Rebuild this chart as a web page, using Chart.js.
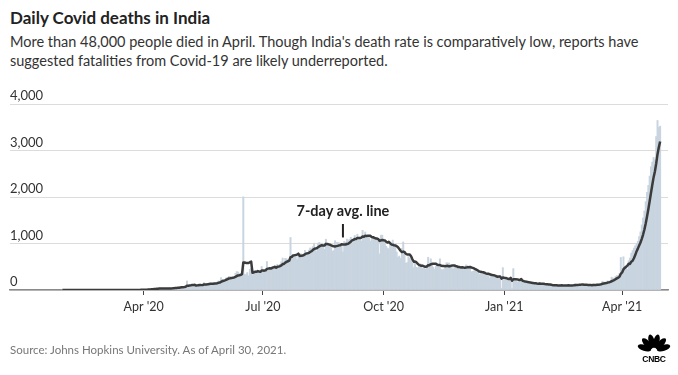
<!DOCTYPE html>
<html>
<head>
<meta charset="utf-8">
<script src="https://cdn.jsdelivr.net/npm/chart.js@4.4.0/dist/chart.umd.min.js"></script>
<style>
  html, body { margin: 0; padding: 0; background: #fff; }
  body { width: 678px; height: 375px; position: relative; overflow: hidden; font-family: Lato, "Open Sans", sans-serif; color: #222; }
  #title { position: absolute; left: 10px; top: 7px; font-size: 17px; font-weight: 700; color: #222; }
  #sub { position: absolute; left: 10px; top: 32px; width: 665px; font-size: 14.5px; line-height: 19px; color: #333; }
  #source { position: absolute; left: 10px; top: 343px; font-size: 11.5px; color: #777; }
  #chart { position: absolute; left: 0; top: 0; }
  #logo { position: absolute; left: 637px; top: 334px; }
</style>
</head>
<body>
<div id="title">Daily Covid deaths in India</div>
<div id="sub">More than 48,000 people died in April. Though India's death rate is comparatively low, reports have suggested fatalities from Covid-19 are likely underreported.</div>
<canvas id="chart" width="678" height="375"></canvas>
<div id="source">Source: Johns Hopkins University. As of April 30, 2021.</div>
<svg id="logo" width="34" height="30" viewBox="0 0 34 30">
  <g fill="#000">
    <ellipse cx="17" cy="7" rx="3" ry="7" transform="rotate(-72 17 17)"/>
    <ellipse cx="17" cy="7" rx="3" ry="7" transform="rotate(-43 17 17)"/>
    <ellipse cx="17" cy="7" rx="3" ry="7" transform="rotate(-14 17 17)"/>
    <ellipse cx="17" cy="7" rx="3" ry="7" transform="rotate(14 17 17)"/>
    <ellipse cx="17" cy="7" rx="3" ry="7" transform="rotate(43 17 17)"/>
    <ellipse cx="17" cy="7" rx="3" ry="7" transform="rotate(72 17 17)"/>
  </g>
  <text x="17" y="27.5" font-size="8.5" font-weight="900" text-anchor="middle" font-family="'Liberation Sans', Arial, sans-serif" fill="#000" letter-spacing="-0.3">CNBC</text>
</svg>
<script>
// daily deaths, Jan 30 2020 .. Apr 30 2021
var jan20 = [0, 0];
var feb20 = [0,0,0,0,0,0,0,0,0,0,0,0,0,0,0,0,0,0,0,0,0,0,0,0,0,0,0,0,0];
var mar20 = [0,0,0,0,0,0,0,0,0,0,0,1,1,0,0,0,1,0,1,0,1,3,2,1,1,3,3,5,3,7,7];
var apr20 = [6,12,9,15,27,13,29,22,33,20,35,38,44,31,35,26,23,36,40,36,43,38,41,47,53,47,56,61,66,71];
var may20 = [77,72,83,195,89,103,90,104,95,97,87,121,131,100,103,120,157,101,134,132,148,140,142,137,147,146,170,194,175,265,230];
var jun20 = [204,217,260,273,294,287,261,266,246,357,396,386,311,325,380,2003,341,334,375,306,445,465,312,418,413,384,410,380,418,507];
var jul20 = [434,379,442,613,425,467,482,507,475,519,487,551,500,553,606,687,543,681,671,587,637,1129,740,757,705,708,654,779,775,779,768];
var aug20 = [764,853,771,803,857,904,886,933,1007,871,834,1007,1023,995,1007,944,876,1092,977,983,944,912,836,848,1059,1023,1021,1017,948,968,819];
var sep20 = [1045,1026,1096,1065,1089,1133,1016,1115,1172,1089,1201,1114,1136,1054,1283,1132,1247,1174,1133,1130,1053,1085,1129,1141,1089,1124,1039,776,1179,1179];
var oct20 = [1095,1069,940,903,884,986,971,1073,964,918,816,706,730,680,895,1033,837,579,587,717,680,650,578,480,587,488,480,517,563,551,470];
var nov20 = [470,449,514,704,577,670,559,490,447,512,547,543,670,447,435,449,474,586,584,577,511,492,447,488,518,522,485,496,443,482];
var dec20 = [443,482,540,524,511,482,391,402,411,412,442,391,336,354,355,387,338,347,341,333,261,300,336,312,271,260,251,292,292,40,480];
var jan21 = [217,224,214,201,264,234,30,460,228,216,168,201,202,175,189,191,145,137,162,151,152,163,127,131,135,125,123,164,127,137,127];
var feb21 = [94,107,106,127,125,96,78,84,94,112,101,97,123,90,77,91,110,101,118,87,100,79,104,138,121,113,117,106];
var mar21 = [112,110,98,117,113,108,99,96,77,131,126,117,133,121,131,118,188,172,154,158,197,161,199,275,257,251,291,312,271,354,700];
var apr21 = [460,714,513,478,446,630,684,794,850,900,950,1000,1050,1150,1250,1400,1550,1700,1900,2100,2250,2450,2650,2750,2850,2800,3300,3645,3498,3523];

// x axis is days after Jan 1 2020
var firstDay = 29;
var tickDays = [91, 182, 274, 366, 456];
var tickLabels = ["Apr '20", "Jul '20", "Oct '20", "Jan '21", "Apr '21"];
var yTicks = [0, 1000, 2000, 3000, 4000];
var noteText = "7-day avg. line";
var noteDay = 243;

var deaths = [].concat(jan20, feb20, mar20, apr20, may20, jun20, jul20, aug20, sep20, oct20, nov20, dec20, jan21, feb21, mar21, apr21);
var days = deaths.map(function (_, i) { return firstDay + i; });
// trailing 7-day average, as in the original
var avg7 = deaths.map(function (_, i) {
    var win = deaths.slice(Math.max(0, i - 6), i + 1);
    return win.reduce(function (a, b) { return a + b; }, 0) / win.length;
});

Chart.defaults.font.family = "Lato, 'Open Sans', sans-serif";

var notePlugin = {
    id: "avgNote",
    afterDatasetsDraw: function (chart) {
        var ctx = chart.ctx, x = chart.scales.x, y = chart.scales.y;
        var px = x.getPixelForValue(noteDay);
        ctx.save();
        ctx.fillStyle = "#222";
        ctx.font = "bold 14.5px Lato, sans-serif";
        ctx.textAlign = "center";
        ctx.textBaseline = "middle";
        ctx.fillText(noteText, px, y.getPixelForValue(1700));
        ctx.strokeStyle = "#222";
        ctx.lineWidth = 2;
        ctx.beginPath();
        ctx.moveTo(px, y.getPixelForValue(1420));
        ctx.lineTo(px, y.getPixelForValue(1130));
        ctx.stroke();
        ctx.restore();
    }
};

new Chart(document.getElementById("chart"), {
    type: "bar",
    data: {
        datasets: [
            {
                type: "line",
                data: days.map(function (d, i) { return { x: d, y: avg7[i] }; }),
                borderColor: "#3b3b3b",
                borderWidth: 2.5,
                pointRadius: 0,
                borderJoinStyle: "round",
                order: 0
            },
            {
                type: "bar",
                data: days.map(function (d, i) { return { x: d, y: deaths[i] }; }),
                backgroundColor: "#c8d4df",
                barPercentage: 1,
                categoryPercentage: 1,
                order: 1
            }
        ]
    },
    options: {
        responsive: false,
        animation: false,
        layout: { padding: { left: 10, right: 10, top: 104, bottom: 55 } },
        plugins: { legend: { display: false }, tooltip: { enabled: false } },
        scales: {
            x: {
                type: "linear",
                offset: false,
                min: -11,
                max: 491,
                afterBuildTicks: function (s) { s.ticks = tickDays.map(function (v) { return { value: v }; }); },
                afterFit: function (s) { s.height = 30; },
                ticks: {
                    autoSkip: false,
                    maxRotation: 0,
                    padding: 4,
                    color: "#333",
                    font: { size: 12.5 },
                    callback: function (v) { return tickLabels[tickDays.indexOf(v)]; }
                },
                grid: { offset: false, drawOnChartArea: false, drawTicks: true, tickLength: 5, tickColor: "#444" },
                border: { color: "#8a8a8a", width: 1.5 }
            },
            y: {
                min: 0,
                max: 4000,
                afterBuildTicks: function (s) { s.ticks = yTicks.map(function (v) { return { value: v }; }); },
                afterFit: function (s) { s.width = 0; },
                ticks: {
                    mirror: true,
                    padding: 0,
                    labelOffset: -8,
                    color: "#333",
                    font: { size: 13 },
                    callback: function (v) { return v.toLocaleString("en-US"); }
                },
                grid: { color: "#dcdcdc", drawTicks: false },
                border: { display: false }
            }
        }
    },
    plugins: [notePlugin]
});
</script>
</body>
</html>
